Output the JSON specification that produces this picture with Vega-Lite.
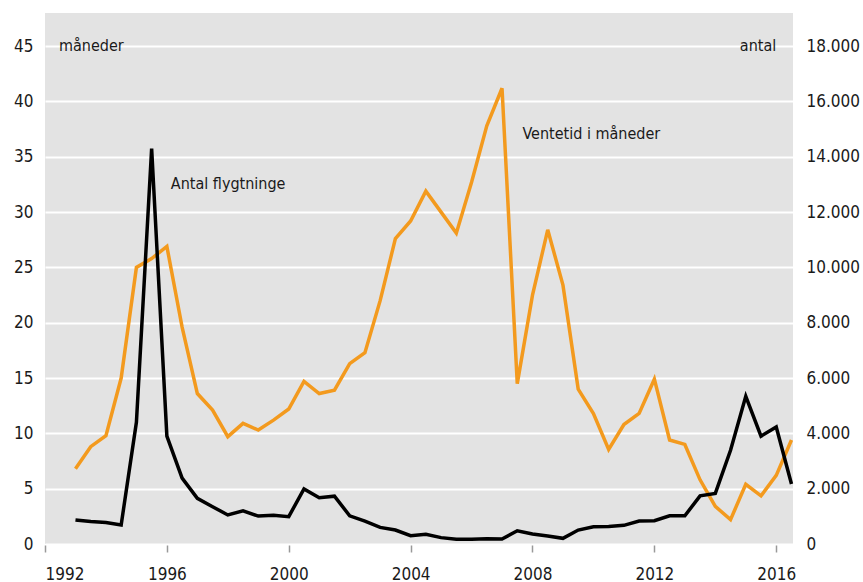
{
  "$schema": "https://vega.github.io/schema/vega-lite/v6.json",
  "width": 748,
  "height": 531,
  "autosize": "none",
  "padding": {"left": 45, "top": 13, "right": 70, "bottom": 38},
  "background": "white",
  "config": {
    "view": {"fill": "#e3e3e3", "stroke": null},
    "font": "Liberation Sans Narrow, DejaVu Sans Condensed, sans-serif",
    "axis": {"labelFont": "Liberation Sans Narrow, DejaVu Sans Condensed, sans-serif", "labelFontSize": 17, "labelColor": "#1a1a1a"}
  },
  "datasets": {
    "series": [
      {"year": 1993.0, "ventetid": 6.8, "antal": 870},
      {"year": 1993.5, "ventetid": 8.8, "antal": 810},
      {"year": 1994.0, "ventetid": 9.8, "antal": 780},
      {"year": 1994.5, "ventetid": 15.0, "antal": 690},
      {"year": 1995.0, "ventetid": 25.0, "antal": 4400},
      {"year": 1995.5, "ventetid": 25.8, "antal": 14300},
      {"year": 1996.0, "ventetid": 26.9, "antal": 3900},
      {"year": 1996.5, "ventetid": 19.6, "antal": 2380},
      {"year": 1997.0, "ventetid": 13.6, "antal": 1650},
      {"year": 1997.5, "ventetid": 12.1, "antal": 1350},
      {"year": 1998.0, "ventetid": 9.7, "antal": 1050},
      {"year": 1998.5, "ventetid": 10.9, "antal": 1200},
      {"year": 1999.0, "ventetid": 10.3, "antal": 1010},
      {"year": 1999.5, "ventetid": 11.2, "antal": 1035},
      {"year": 2000.0, "ventetid": 12.2, "antal": 990},
      {"year": 2000.5, "ventetid": 14.7, "antal": 1990},
      {"year": 2001.0, "ventetid": 13.6, "antal": 1670},
      {"year": 2001.5, "ventetid": 13.9, "antal": 1730},
      {"year": 2002.0, "ventetid": 16.3, "antal": 1020},
      {"year": 2002.5, "ventetid": 17.3, "antal": 830},
      {"year": 2003.0, "ventetid": 22.0, "antal": 600},
      {"year": 2003.5, "ventetid": 27.6, "antal": 505},
      {"year": 2004.0, "ventetid": 29.2, "antal": 300},
      {"year": 2004.5, "ventetid": 31.9, "antal": 350},
      {"year": 2005.0, "ventetid": 30.0, "antal": 230},
      {"year": 2005.5, "ventetid": 28.1, "antal": 170},
      {"year": 2006.0, "ventetid": 32.7, "antal": 170},
      {"year": 2006.5, "ventetid": 37.8, "antal": 190},
      {"year": 2007.0, "ventetid": 41.2, "antal": 180},
      {"year": 2007.5, "ventetid": 14.5, "antal": 480},
      {"year": 2008.0, "ventetid": 22.5, "antal": 360},
      {"year": 2008.5, "ventetid": 28.4, "antal": 290},
      {"year": 2009.0, "ventetid": 23.4, "antal": 205},
      {"year": 2009.5, "ventetid": 14.0, "antal": 505},
      {"year": 2010.0, "ventetid": 11.8, "antal": 625},
      {"year": 2010.5, "ventetid": 8.55, "antal": 630},
      {"year": 2011.0, "ventetid": 10.8, "antal": 675},
      {"year": 2011.5, "ventetid": 11.8, "antal": 830},
      {"year": 2012.0, "ventetid": 14.9, "antal": 840},
      {"year": 2012.5, "ventetid": 9.4, "antal": 1020},
      {"year": 2013.0, "ventetid": 9.0, "antal": 1020},
      {"year": 2013.5, "ventetid": 5.8, "antal": 1740},
      {"year": 2014.0, "ventetid": 3.4, "antal": 1830},
      {"year": 2014.5, "ventetid": 2.2, "antal": 3390},
      {"year": 2015.0, "ventetid": 5.4, "antal": 5340},
      {"year": 2015.5, "ventetid": 4.35, "antal": 3900},
      {"year": 2016.0, "ventetid": 6.2, "antal": 4230},
      {"year": 2016.5, "ventetid": 9.4, "antal": 2170}
    ],
    "leftlabels": [
      {"year": 1992.46, "yv": 45, "text": "måneder"},
      {"year": 1996.13, "yv": 32.55, "text": "Antal flygtninge"},
      {"year": 2007.67, "yv": 37.06, "text": "Ventetid i måneder"}
    ],
    "rightlabels": [
      {"year": 2016.0, "yv": 45, "text": "antal"}
    ]
  },
  "layer": [
    {
      "layer": [
        {
          "data": {"name": "series"},
          "mark": {"type": "line", "color": "#f39a1e", "strokeWidth": 3.5, "strokeJoin": "miter"},
          "encoding": {
            "x": {
              "field": "year", "type": "quantitative",
              "scale": {"domain": [1992, 2016.55], "nice": false, "zero": false},
              "axis": {"values": [1992, 1996, 2000, 2004, 2008, 2012, 2016], "format": "d", "title": null, "grid": false, "domain": false, "tickColor": "#999999", "tickSize": 7, "tickWidth": 1.5, "labelPadding": 14, "offset": 1}
            },
            "y": {
              "field": "ventetid", "type": "quantitative",
              "scale": {"domain": [0, 48], "nice": false},
              "axis": {"orient": "left", "values": [0, 5, 10, 15, 20, 25, 30, 35, 40, 45], "title": null, "domain": false, "ticks": false, "labelPadding": 12, "grid": true, "gridColor": "white", "gridWidth": 2, "gridOpacity": 1}
            }
          }
        },
        {
          "data": {"name": "leftlabels"},
          "mark": {"type": "text", "fontSize": 16, "color": "#1a1a1a", "baseline": "middle", "align": "left"},
          "encoding": {
            "x": {"field": "year", "type": "quantitative"},
            "y": {"field": "yv", "type": "quantitative"},
            "text": {"field": "text"}
          }
        },
        {
          "data": {"name": "rightlabels"},
          "mark": {"type": "text", "fontSize": 16, "color": "#1a1a1a", "baseline": "middle", "align": "right"},
          "encoding": {
            "x": {"field": "year", "type": "quantitative"},
            "y": {"field": "yv", "type": "quantitative"},
            "text": {"field": "text"}
          }
        }
      ]
    },
    {
      "data": {"name": "series"},
      "mark": {"type": "line", "color": "#000000", "strokeWidth": 3.5, "strokeJoin": "miter"},
      "encoding": {
        "x": {"field": "year", "type": "quantitative"},
        "y": {
          "field": "antal", "type": "quantitative",
          "scale": {"domain": [0, 19200], "nice": false},
          "axis": {"orient": "right", "values": [0, 2000, 4000, 6000, 8000, 10000, 12000, 14000, 16000, 18000], "labelExpr": "replace(format(datum.value, ','), ',', '.')", "title": null, "domain": false, "ticks": false, "grid": false, "labelPadding": 13}
        }
      }
    }
  ],
  "resolve": {"scale": {"y": "independent"}}
}
